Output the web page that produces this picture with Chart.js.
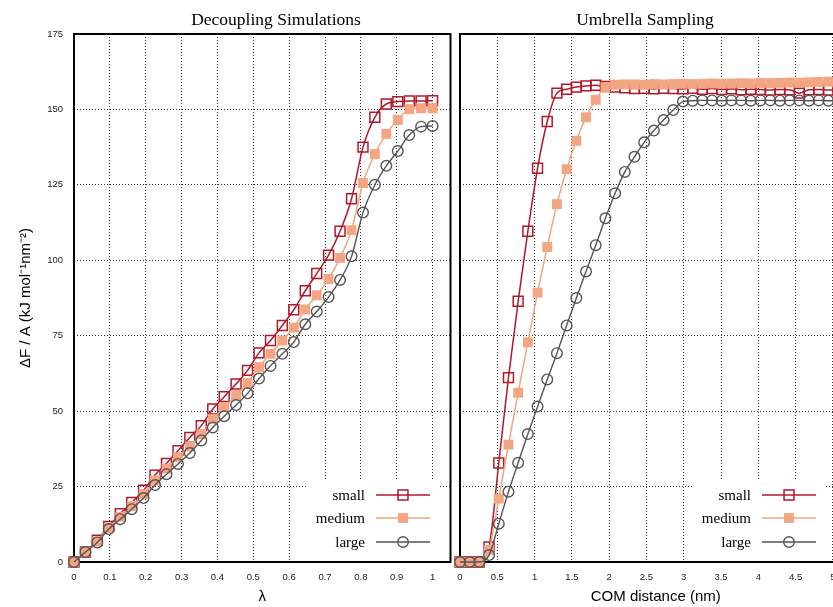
<!DOCTYPE html>
<html>
<head>
<meta charset="utf-8">
<title>Decoupling Simulations / Umbrella Sampling</title>
<script src="https://cdn.jsdelivr.net/npm/chart.js@4.4.1/dist/chart.umd.min.js"></script>
<style>
  html, body { margin: 0; padding: 0; background: #fff; overflow: hidden; }
  #wrap { position: relative; width: 833px; height: 607px; overflow: hidden; background: #fff; }
  #left-chart { position: absolute; left: 0; top: 0; }
  #right-chart { position: absolute; left: 440px; top: 0; }
</style>
</head>
<body>
<div id="wrap">
  <canvas id="left-chart" width="459" height="607"></canvas>
  <canvas id="right-chart" width="420" height="607"></canvas>
</div>
<script>
// --- left panel: decoupling, x = lambda
var lambdaValues = [0, 0.032, 0.065, 0.097, 0.129, 0.161, 0.194, 0.226, 0.258, 0.290, 0.323, 0.355,
    0.387, 0.419, 0.452, 0.484, 0.516, 0.548, 0.581, 0.613, 0.645, 0.677, 0.710, 0.742,
    0.774, 0.806, 0.839, 0.871, 0.903, 0.935, 0.968, 1.0];
var decoupSmall = [0, 3.3, 7.2, 11.8, 16.0, 19.7, 23.8, 28.8, 32.7, 36.9, 41.3, 45.2,
    50.7, 54.8, 59.0, 63.5, 69.3, 73.4, 78.4, 83.6, 89.9, 95.6, 101.7, 109.6,
    120.4, 137.5, 147.4, 151.8, 152.6, 152.8, 152.8, 152.9];
var decoupMedium = [0, 3.3, 6.8, 11.3, 15.0, 18.6, 22.5, 27.0, 31.0, 34.7, 38.3, 42.4,
    47.4, 51.3, 55.3, 59.3, 64.6, 69.0, 73.4, 77.7, 83.7, 88.4, 93.8, 100.8,
    110.0, 125.6, 135.2, 141.9, 146.5, 150.1, 150.4, 150.4];
var decoupLarge = [0, 3.3, 6.5, 10.9, 14.2, 17.5, 21.2, 25.5, 29.1, 32.5, 36.1, 40.3,
    44.6, 48.3, 52.0, 55.9, 60.8, 65.0, 69.0, 72.9, 78.8, 83.0, 87.8, 93.5,
    101.3, 115.8, 125.0, 131.3, 136.2, 141.5, 144.3, 144.5];

// --- right panel: umbrella sampling, x = COM distance (nm)
var comDistance = [0, 0.13, 0.26, 0.39, 0.52, 0.65, 0.78, 0.91, 1.04, 1.17, 1.3, 1.43,
    1.56, 1.69, 1.82, 1.95, 2.08, 2.21, 2.34, 2.47, 2.6, 2.73, 2.86, 2.99,
    3.12, 3.25, 3.38, 3.51, 3.64, 3.77, 3.9, 4.03, 4.16, 4.29, 4.42, 4.55,
    4.68, 4.81, 4.94, 5.07];
var umbrellaSmall = [0, 0, 0, 5.0, 32.8, 61.1, 86.4, 109.6, 130.5, 146.0, 155.4, 156.7,
    157.4, 157.8, 158.0, 157.6, 157.4, 157.2, 156.9, 157.0, 156.8, 157.0, 156.9, 156.8,
    157.0, 156.7, 156.9, 156.6, 156.8, 156.5, 156.7, 156.6, 156.4, 156.6, 156.5, 155.4,
    156.5, 156.6, 156.4, 156.5];
var umbrellaMedium = [0, 0, 0, 4.0, 21.0, 38.9, 56.1, 72.8, 89.3, 104.4, 118.6, 130.2,
    139.6, 147.4, 153.2, 157.4, 158.2, 158.3, 158.3, 158.2, 158.4, 158.3, 158.4, 158.5,
    158.4, 158.5, 158.6, 158.5, 158.6, 158.7, 158.6, 158.8, 158.7, 158.8, 158.9, 158.8,
    159.0, 159.1, 159.2, 159.3];
var umbrellaLarge = [0, 0, 0, 2.3, 12.7, 23.3, 32.9, 42.4, 51.5, 60.5, 69.2, 78.4,
    87.5, 96.3, 105.0, 113.9, 122.2, 129.3, 134.3, 139.1, 143.0, 146.5, 149.8, 152.6,
    152.9, 153.0, 153.0, 152.9, 153.0, 153.0, 152.9, 153.0, 153.0, 152.9, 153.0, 153.0,
    152.9, 153.0, 152.9, 153.0];

var seriesNames = ['small', 'medium', 'large'];
var leftXTicks = [0, 0.1, 0.2, 0.3, 0.4, 0.5, 0.6, 0.7, 0.8, 0.9, 1];
var rightXTicks = [0, 0.5, 1, 1.5, 2, 2.5, 3, 3.5, 4, 4.5, 5];
var yTicks = [0, 25, 50, 75, 100, 125, 150, 175];

Chart.defaults.font.family = '"Liberation Sans", Arial, sans-serif';
Chart.defaults.color = '#222';

function toPoints(xs, ys) {
    return xs.map(function(x, i) { return { x: x, y: ys[i] }; });
}

function makeDatasets(xs, small, medium, large) {
    return [{
        label: seriesNames[0],
        data: toPoints(xs, small),
        borderColor: '#b2182b',
        borderWidth: 1.5,
        pointStyle: 'rect',
        pointRadius: 7,
        pointBorderWidth: 1.5,
        pointBorderColor: '#b2182b',
        pointBackgroundColor: 'rgba(0,0,0,0)',
        cubicInterpolationMode: 'monotone',
        clip: false,
        order: 3
    }, {
        label: seriesNames[1],
        data: toPoints(xs, medium),
        borderColor: '#f4a582',
        borderWidth: 1.5,
        pointStyle: 'rect',
        pointRadius: 7,
        pointBorderWidth: 0,
        pointBorderColor: '#f4a582',
        pointBackgroundColor: '#f4a582',
        cubicInterpolationMode: 'monotone',
        clip: false,
        order: 2
    }, {
        label: seriesNames[2],
        data: toPoints(xs, large),
        borderColor: '#555555',
        borderWidth: 1.4,
        pointStyle: 'circle',
        pointRadius: 5.3,
        pointBorderWidth: 1.4,
        pointBorderColor: '#555555',
        pointBackgroundColor: 'rgba(0,0,0,0)',
        cubicInterpolationMode: 'monotone',
        clip: false,
        order: 1
    }];
}

function drawMarker(ctx, ds, x, y) {
    var r = ds.pointRadius;
    ctx.beginPath();
    if (ds.pointStyle === 'circle') {
        ctx.arc(x, y, r, 0, Math.PI * 2);
    } else {
        var h = r * Math.SQRT1_2;
        ctx.rect(x - h, y - h, 2 * h, 2 * h);
    }
    if (ds.pointBackgroundColor !== 'rgba(0,0,0,0)') {
        ctx.fillStyle = ds.pointBackgroundColor;
        ctx.fill();
    }
    if (ds.pointBorderWidth) {
        ctx.lineWidth = ds.pointBorderWidth;
        ctx.strokeStyle = ds.pointBorderColor;
        ctx.stroke();
    }
}

// frame, key box (gnuplot style) and the panel title
var panelPlugin = {
    id: 'panel',
    beforeDatasetsDraw: function(chart) {
        var a = chart.chartArea;
        var ctx = chart.ctx;
        ctx.save();
        ctx.fillStyle = '#fff';
        ctx.fillRect(a.left + 233, a.bottom - 82, 133, 81);
        ctx.font = '15px "Liberation Serif", "Times New Roman", serif';
        ctx.textAlign = 'right';
        ctx.textBaseline = 'middle';
        var rows = [67, 44, 20];
        chart.data.datasets.forEach(function(ds, i) {
            var y = a.bottom - rows[i];
            ctx.fillStyle = '#000';
            ctx.fillText(ds.label, a.left + 291, y + 1);
            ctx.strokeStyle = ds.borderColor;
            ctx.lineWidth = ds.borderWidth;
            ctx.beginPath();
            ctx.moveTo(a.left + 302, y);
            ctx.lineTo(a.left + 356, y);
            ctx.stroke();
            drawMarker(ctx, ds, a.left + 329, y);
        });
        ctx.strokeStyle = '#000';
        ctx.lineWidth = 2;
        ctx.strokeRect(a.left, a.top, a.right - a.left, a.bottom - a.top);
        ctx.restore();
    },
    afterDraw: function(chart, args, opts) {
        var ctx = chart.ctx;
        ctx.save();
        ctx.font = '17.5px "Liberation Serif", "Times New Roman", serif';
        ctx.fillStyle = '#000';
        ctx.textAlign = 'center';
        ctx.textBaseline = 'alphabetic';
        ctx.fillText(opts.title, opts.titleX, 25);
        ctx.restore();
    }
};

function fmt(v) {
    return String(Math.round(v * 100) / 100);
}

function makeChart(canvasId, xs, small, medium, large, xMax, xTicks, xTitle, showY, title, titleX, pad) {
    var ctx = document.getElementById(canvasId).getContext('2d');
    return new Chart(ctx, {
        type: 'line',
        data: { datasets: makeDatasets(xs, small, medium, large) },
        plugins: [panelPlugin],
        options: {
            responsive: false,
            animation: false,
            events: [],
            layout: { padding: pad },
            plugins: {
                legend: { display: false },
                tooltip: { enabled: false },
                panel: { title: title, titleX: titleX }
            },
            scales: {
                x: {
                    type: 'linear',
                    min: 0,
                    max: xMax,
                    afterBuildTicks: function(s) {
                        s.ticks = xTicks.map(function(v) { return { value: v }; });
                    },
                    afterFit: function(s) { s.height = 45; },
                    grid: { color: '#333', lineWidth: 1, drawTicks: false },
                    border: { display: false, dash: [1, 2] },
                    ticks: { padding: 10, font: { size: 9.5 }, callback: fmt, maxRotation: 0 },
                    title: {
                        display: true,
                        text: xTitle,
                        color: '#000',
                        font: { size: 15 },
                        padding: { top: 0, bottom: 1 }
                    }
                },
                y: {
                    min: 0,
                    max: 175,
                    afterBuildTicks: function(s) {
                        s.ticks = yTicks.map(function(v) { return { value: v }; });
                    },
                    afterFit: function(s) { s.width = showY ? 74 : 0; },
                    grid: { color: '#333', lineWidth: 1, drawTicks: false },
                    border: { display: false, dash: [1, 2] },
                    ticks: { display: showY, padding: 11, font: { size: 9.5 } },
                    title: {
                        display: showY,
                        text: 'ΔF / A (kJ mol⁻¹nm⁻²)',
                        color: '#000',
                        font: { size: 15 },
                        padding: { top: 17, bottom: 0 }
                    }
                }
            }
        }
    });
}

makeChart('left-chart', lambdaValues, decoupSmall, decoupMedium, decoupLarge,
    1.05, leftXTicks, 'λ', true, 'Decoupling Simulations', 276,
    { top: 34, right: 0, left: 0, bottom: 0 });

makeChart('right-chart', comDistance, umbrellaSmall, umbrellaMedium, umbrellaLarge,
    5.25, rightXTicks, 'COM distance (nm)', false, 'Umbrella Sampling', 205,
    { top: 34, right: 5.4, left: 20, bottom: 0 });
</script>
</body>
</html>
